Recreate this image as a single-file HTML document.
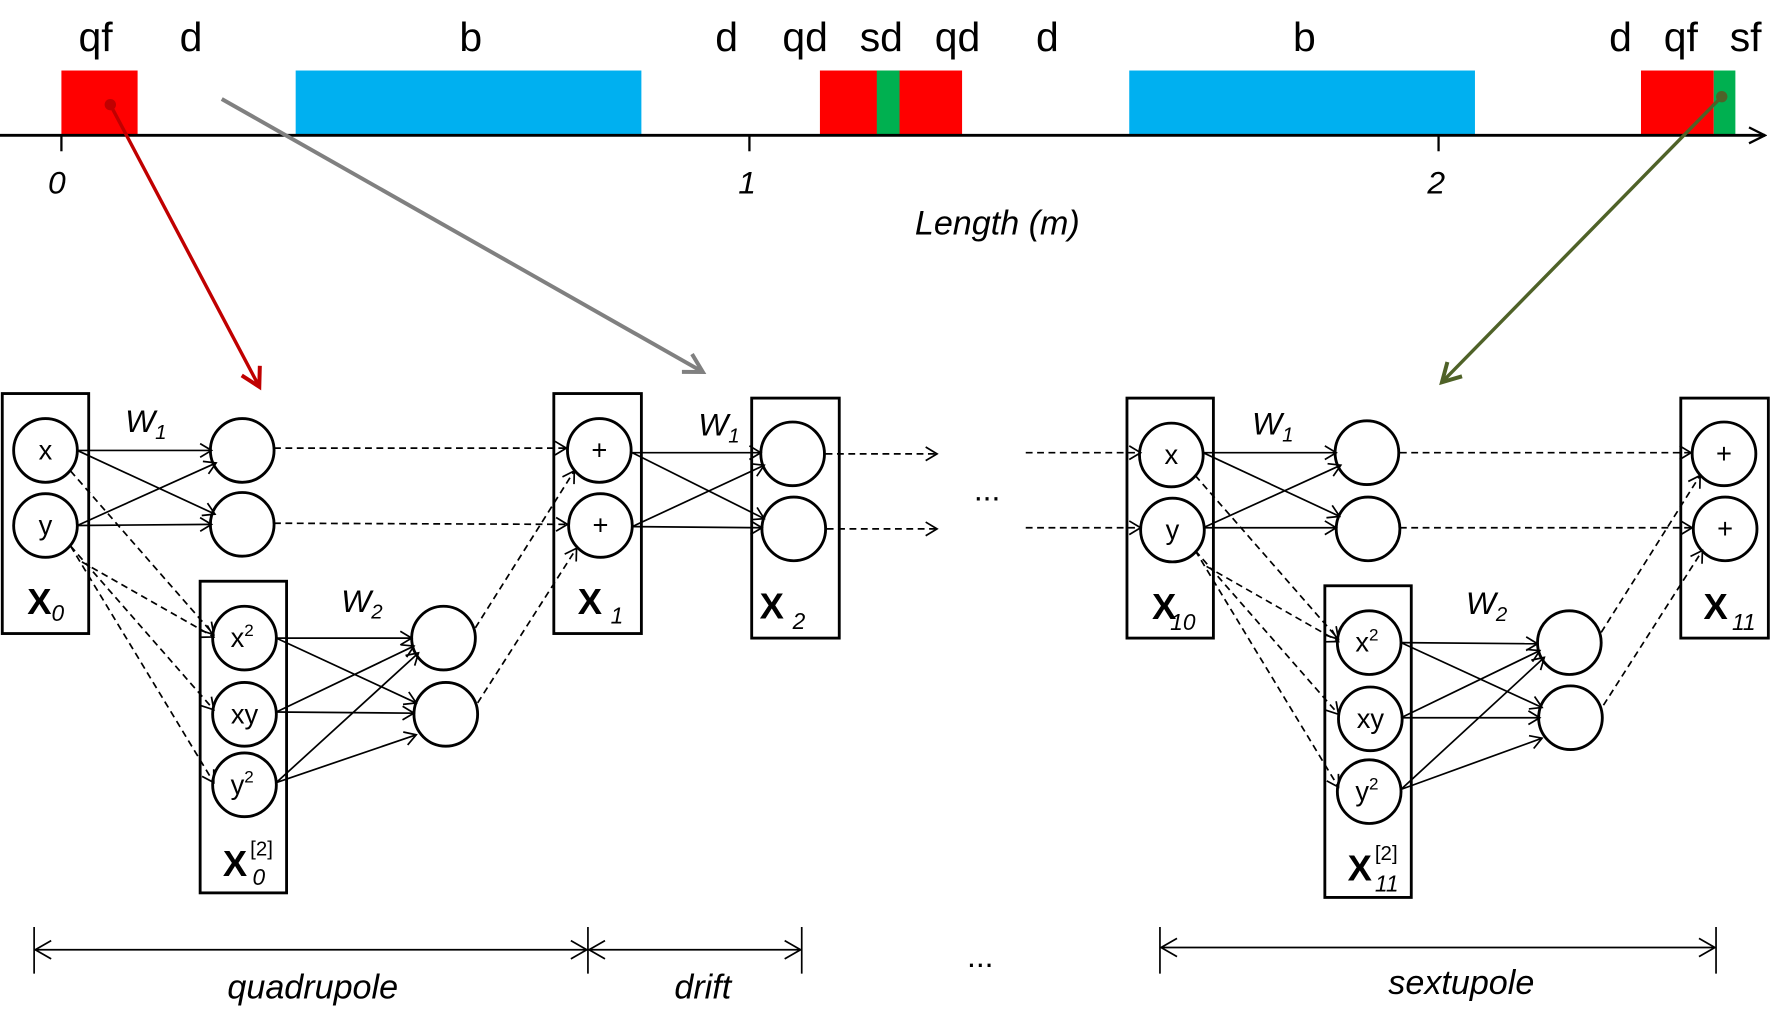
<!DOCTYPE html>
<html><head><meta charset="utf-8"><style>
html,body{margin:0;padding:0;background:#fff}
svg{display:block}
text{font-family:"Liberation Sans",sans-serif;fill:#000}
.t{font-size:36px}
.i{font-style:italic}
.c{font-size:24px;text-anchor:middle}
.b{font-size:32px;font-weight:bold}
.s{font-size:20px;font-style:italic}
</style></head><body>
<svg width="1782" height="1018" viewBox="0 0 1567 895" preserveAspectRatio="none" xmlns="http://www.w3.org/2000/svg">
<defs>
<marker id="a" markerWidth="14" markerHeight="14" refX="12" refY="7" orient="auto" markerUnits="userSpaceOnUse"><path d="M2,1 L12,7 L2,13" fill="none" stroke="#000" stroke-width="1.5"/></marker>
<marker id="ar" markerWidth="24" markerHeight="24" refX="20" refY="12" orient="auto" markerUnits="userSpaceOnUse"><path d="M4,3 L20,12 L4,21" fill="none" stroke="#c00000" stroke-width="3.5"/></marker>
<marker id="ag" markerWidth="24" markerHeight="24" refX="20" refY="12" orient="auto" markerUnits="userSpaceOnUse"><path d="M4,3 L20,12 L4,21" fill="none" stroke="#808080" stroke-width="3.5"/></marker>
<marker id="ao" markerWidth="24" markerHeight="24" refX="20" refY="12" orient="auto" markerUnits="userSpaceOnUse"><path d="M4,3 L20,12 L4,21" fill="none" stroke="#4f6228" stroke-width="3.5"/></marker>
<marker id="ax" markerWidth="20" markerHeight="20" refX="18" refY="10" orient="auto" markerUnits="userSpaceOnUse"><path d="M4,3 L18,10 L4,17" fill="none" stroke="#000" stroke-width="2"/></marker>
<marker id="dl" markerWidth="24" markerHeight="24" refX="2" refY="12" orient="auto" markerUnits="userSpaceOnUse"><path d="M16,4 L2,12 L16,20" fill="none" stroke="#000" stroke-width="1.5"/></marker>
<marker id="dr" markerWidth="24" markerHeight="24" refX="22" refY="12" orient="auto" markerUnits="userSpaceOnUse"><path d="M8,4 L22,12 L8,20" fill="none" stroke="#000" stroke-width="1.5"/></marker>
</defs>

<rect x="54" y="62" width="67" height="57" fill="#ff0000"/>
<rect x="260" y="62" width="304" height="57" fill="#00b0f0"/>
<rect x="721" y="62" width="125" height="57" fill="#ff0000"/>
<rect x="771" y="62" width="20" height="57" fill="#00b050"/>
<rect x="993" y="62" width="304" height="57" fill="#00b0f0"/>
<rect x="1443" y="62" width="64" height="57" fill="#ff0000"/>
<rect x="1507" y="62" width="19" height="57" fill="#00b050"/>
<line x1="0" y1="119" x2="1552" y2="119" stroke="#000" stroke-width="2.5" marker-end="url(#ax)"/>
<g stroke="#000" stroke-width="2"><line x1="54" y1="119" x2="54" y2="133"/><line x1="659" y1="119" x2="659" y2="133"/><line x1="1265" y1="119" x2="1265" y2="133"/></g>
<g class="i" font-size="28" text-anchor="middle"><text x="50" y="170">0</text><text x="657" y="170">1</text><text x="1263" y="170">2</text></g>
<text x="877" y="206" font-size="30" class="i" text-anchor="middle">Length (m)</text>
<g class="t" text-anchor="middle">
<text x="84" y="45">qf</text><text x="168" y="45">d</text><text x="414" y="45">b</text><text x="639" y="45">d</text>
<text x="708" y="45">qd</text><text x="775" y="45">sd</text><text x="842" y="45">qd</text><text x="921" y="45">d</text>
<text x="1147" y="45">b</text><text x="1425" y="45">d</text><text x="1478" y="45">qf</text><text x="1535" y="45">sf</text>
</g>
<line x1="97" y1="92" x2="228" y2="340" stroke="#c00000" stroke-width="3" marker-end="url(#ar)"/>
<circle cx="97" cy="92" r="5" fill="#c00000"/>
<line x1="195" y1="87" x2="618" y2="327" stroke="#808080" stroke-width="3.5" marker-end="url(#ag)"/>
<line x1="1514" y1="85" x2="1268" y2="336" stroke="#4f6228" stroke-width="3" marker-end="url(#ao)"/>
<circle cx="1514" cy="85" r="5" fill="#4f6228"/>

<g>
<g fill="none" stroke="#000" stroke-width="2.5">
<rect x="2" y="346" width="76" height="211"/><rect x="176" y="511" width="76" height="274"/><rect x="487" y="346" width="77" height="211"/>
<ellipse cx="40" cy="396" rx="28" ry="28"/><ellipse cx="40" cy="462" rx="28" ry="28"/>
<ellipse cx="213" cy="396" rx="28" ry="28"/><ellipse cx="213" cy="461" rx="28" ry="28"/>
<ellipse cx="215" cy="561" rx="28" ry="28"/><ellipse cx="215" cy="628" rx="28" ry="28"/><ellipse cx="215" cy="690" rx="28" ry="28"/>
<ellipse cx="390" cy="561" rx="28" ry="28"/><ellipse cx="392" cy="628" rx="28" ry="28"/>
<ellipse cx="527" cy="396" rx="28" ry="28"/><ellipse cx="528" cy="462" rx="28" ry="28"/>
</g>
<g stroke="#000" stroke-width="1.5" marker-end="url(#a)">
<line x1="68" y1="396" x2="186" y2="396"/><line x1="68" y1="396" x2="189" y2="452"/>
<line x1="68" y1="462" x2="190" y2="407"/><line x1="68" y1="462" x2="186" y2="461"/>
<line x1="243" y1="561" x2="362" y2="561"/><line x1="243" y1="561" x2="366" y2="618"/>
<line x1="243" y1="626" x2="364" y2="568"/><line x1="243" y1="626" x2="364" y2="627"/>
<line x1="243" y1="688" x2="368" y2="574"/><line x1="243" y1="688" x2="366" y2="646"/>
</g>
<g stroke="#000" stroke-width="1.5" stroke-dasharray="6,4" marker-end="url(#a)">
<line x1="62" y1="414" x2="188" y2="558"/><line x1="62" y1="480" x2="188" y2="624"/>
<line x1="62" y1="480" x2="188" y2="688"/><line x1="72" y1="494" x2="188" y2="560"/>
<line x1="241" y1="394" x2="498" y2="394"/><line x1="241" y1="460" x2="499" y2="461"/>
<line x1="418" y1="552" x2="505" y2="414"/><line x1="420" y1="618" x2="507" y2="482"/>
</g>
<g class="c"><text x="40" y="404">x</text><text x="40" y="470">y</text>
<text x="213" y="569">x<tspan font-size="15" dy="-10">2</tspan></text><text x="215" y="636">xy</text>
<text x="213" y="698">y<tspan font-size="15" dy="-10">2</tspan></text>
<text x="527" y="404">+</text><text x="528" y="470">+</text></g>
<text x="110" y="380" font-size="28" class="i">W<tspan font-size="18" dy="6">1</tspan></text>
<text x="300" y="538" font-size="28" class="i">W<tspan font-size="18" dy="6">2</tspan></text>
<text x="24" y="540" class="b">X<tspan class="s" font-weight="normal" dy="6">0</tspan></text>
<text x="196" y="770" class="b">X</text><text x="220" y="752" font-size="18">[2]</text><text x="222" y="778" class="s">0</text>
<text x="508" y="540" class="b">X</text><text x="537" y="548" class="s">1</text>
</g>

<g fill="none" stroke="#000" stroke-width="2.5">
<rect x="661" y="350" width="77" height="211"/>
<ellipse cx="697" cy="399" rx="28" ry="28"/><ellipse cx="698" cy="465" rx="28" ry="28"/>
</g>
<g stroke="#000" stroke-width="1.5" marker-end="url(#a)">
<line x1="556" y1="398" x2="669" y2="398"/><line x1="556" y1="398" x2="672" y2="456"/>
<line x1="556" y1="463" x2="672" y2="409"/><line x1="556" y1="463" x2="670" y2="464"/>
</g>
<g stroke="#000" stroke-width="1.5" stroke-dasharray="6,4" marker-end="url(#a)">
<line x1="726" y1="399" x2="824" y2="399"/><line x1="727" y1="465" x2="824" y2="465"/>
</g>
<text x="614" y="383" font-size="28" class="i">W<tspan font-size="18" dy="6">1</tspan></text>
<text x="668" y="544" class="b">X</text><text x="697" y="553" class="s">2</text>
<text x="868" y="440" font-size="28" text-anchor="middle">...</text>

<g transform="translate(989,4)">
<g fill="none" stroke="#000" stroke-width="2.5">
<rect x="2" y="346" width="76" height="211"/><rect x="176" y="511" width="76" height="274"/><rect x="489" y="346" width="77" height="211"/>
<ellipse cx="41" cy="396" rx="28" ry="28"/><ellipse cx="42" cy="462" rx="28" ry="28"/>
<ellipse cx="213" cy="394" rx="28" ry="28"/><ellipse cx="214" cy="461" rx="28" ry="28"/>
<ellipse cx="215" cy="561" rx="28" ry="28"/><ellipse cx="216" cy="628" rx="28" ry="28"/><ellipse cx="215" cy="692" rx="28" ry="28"/>
<ellipse cx="391" cy="561" rx="28" ry="28"/><ellipse cx="392" cy="627" rx="28" ry="28"/>
<ellipse cx="527" cy="395" rx="28" ry="28"/><ellipse cx="528" cy="461" rx="28" ry="28"/>
</g>
<g stroke="#000" stroke-width="1.5" marker-end="url(#a)">
<line x1="69" y1="394" x2="186" y2="394"/><line x1="69" y1="394" x2="189" y2="450"/>
<line x1="69" y1="460" x2="190" y2="405"/><line x1="69" y1="460" x2="186" y2="460"/>
<line x1="243" y1="561" x2="363" y2="562"/><line x1="243" y1="561" x2="367" y2="618"/>
<line x1="243" y1="627" x2="365" y2="568"/><line x1="243" y1="627" x2="365" y2="627"/>
<line x1="243" y1="690" x2="369" y2="574"/><line x1="243" y1="690" x2="367" y2="645"/>
</g>
<g stroke="#000" stroke-width="1.5" stroke-dasharray="6,4" marker-end="url(#a)">
<line x1="-87" y1="394" x2="14" y2="394"/><line x1="-87" y1="460" x2="14" y2="460"/>
<line x1="62" y1="414" x2="188" y2="558"/><line x1="62" y1="480" x2="188" y2="624"/>
<line x1="62" y1="480" x2="188" y2="688"/><line x1="72" y1="494" x2="188" y2="560"/>
<line x1="242" y1="394" x2="498" y2="394"/><line x1="242" y1="460" x2="499" y2="460"/>
<line x1="419" y1="552" x2="506" y2="414"/><line x1="421" y1="616" x2="508" y2="480"/>
</g>
<g class="c"><text x="41" y="404">x</text><text x="42" y="470">y</text>
<text x="213" y="569">x<tspan font-size="15" dy="-10">2</tspan></text><text x="216" y="636">xy</text>
<text x="213" y="700">y<tspan font-size="15" dy="-10">2</tspan></text>
<text x="527" y="403">+</text><text x="528" y="469">+</text></g>
<text x="112" y="378" font-size="28" class="i">W<tspan font-size="18" dy="6">1</tspan></text>
<text x="300" y="536" font-size="28" class="i">W<tspan font-size="18" dy="6">2</tspan></text>
<text x="24" y="540" class="b">X</text><text x="40" y="550" class="s">10</text>
<text x="196" y="770" class="b">X</text><text x="220" y="752" font-size="18">[2]</text><text x="220" y="780" class="s">11</text>
<text x="509" y="540" class="b">X</text><text x="534" y="550" class="s">11</text>
</g>

<g stroke="#000" stroke-width="1.5">
<line x1="30" y1="815" x2="30" y2="856"/><line x1="517" y1="815" x2="517" y2="856"/><line x1="705" y1="815" x2="705" y2="856"/>
<line x1="1020" y1="815" x2="1020" y2="856"/><line x1="1509" y1="815" x2="1509" y2="856"/>
<line x1="31" y1="835" x2="516" y2="835" marker-start="url(#dl)" marker-end="url(#dr)"/>
<line x1="518" y1="835" x2="704" y2="835" marker-start="url(#dl)" marker-end="url(#dr)"/>
<line x1="1021" y1="833" x2="1508" y2="833" marker-start="url(#dl)" marker-end="url(#dr)"/>
</g>
<g font-size="30" class="i" text-anchor="middle">
<text x="275" y="878">quadrupole</text><text x="618" y="878">drift</text><text x="1285" y="874">sextupole</text>
</g>
<text x="862" y="850" font-size="28" text-anchor="middle">...</text>
</svg>
</body></html>
